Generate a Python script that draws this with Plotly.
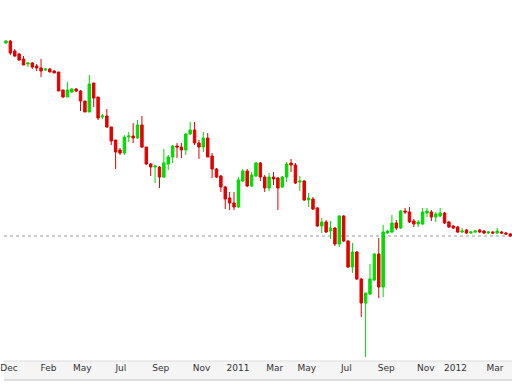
import plotly.graph_objects as go

# Weekly OHLC (price units)
open_ = [1.5112, 1.5144, 1.4984, 1.4936, 1.4856, 1.4776, 1.4792, 1.4744, 1.4712, 1.4680,
         1.4696, 1.4664, 1.4648, 1.4360, 1.4248, 1.4328, 1.4376, 1.4344, 1.4184, 1.4008,
         1.4472, 1.4248, 1.3928, 1.3944, 1.3768, 1.3560, 1.3400, 1.3352, 1.3608, 1.3624,
         1.3592, 1.3800, 1.3448, 1.3176, 1.3128, 1.3128, 1.2968, 1.3176, 1.3288, 1.3464,
         1.3448, 1.3400, 1.3656, 1.3720, 1.3512, 1.3448, 1.3592, 1.3304, 1.3096, 1.2984,
         1.2808, 1.2632, 1.2552, 1.2488, 1.2904, 1.3064, 1.2824, 1.2984, 1.3192, 1.2968,
         1.2792, 1.2968, 1.2952, 1.2808, 1.2968, 1.3192, 1.3160, 1.2888, 1.2904, 1.2600,
         1.2616, 1.2472, 1.2184, 1.2248, 1.2104, 1.2152, 1.1896, 1.2344, 1.1944, 1.1528,
         1.1768, 1.1336, 1.0952, 1.1096, 1.1320, 1.1736, 1.1208, 1.2072, 1.2088, 1.2232,
         1.2152, 1.2424, 1.2408, 1.2264, 1.2216, 1.2216, 1.2392, 1.2408, 1.2328, 1.2344,
         1.2392, 1.2248, 1.2184, 1.2168, 1.2088, 1.2120, 1.2072, 1.2088, 1.2120, 1.2104,
         1.2072, 1.2088, 1.2072, 1.2088, 1.2072, 1.2056]
high = [1.5160, 1.5160, 1.5016, 1.4952, 1.4904, 1.4808, 1.4808, 1.4776, 1.4856, 1.4712,
        1.4712, 1.4680, 1.4648, 1.4360, 1.4488, 1.4392, 1.4392, 1.4360, 1.4184, 1.4600,
        1.4472, 1.4248, 1.3976, 1.4056, 1.3768, 1.3560, 1.3432, 1.3640, 1.3688, 1.3832,
        1.3880, 1.3944, 1.3448, 1.3192, 1.3160, 1.3144, 1.3416, 1.3320, 1.3480, 1.3512,
        1.3512, 1.3672, 1.3848, 1.3848, 1.3560, 1.3688, 1.3672, 1.3352, 1.3112, 1.3000,
        1.2824, 1.2728, 1.2728, 1.2968, 1.3096, 1.3096, 1.3048, 1.3208, 1.3208, 1.3000,
        1.3032, 1.3048, 1.2968, 1.2984, 1.3208, 1.3256, 1.3192, 1.2984, 1.2920, 1.2712,
        1.2648, 1.2488, 1.2312, 1.2280, 1.2264, 1.2168, 1.2360, 1.2360, 1.1960, 1.1912,
        1.1784, 1.1352, 1.1112, 1.1576, 1.1752, 1.1992, 1.2200, 1.2120, 1.2360, 1.2280,
        1.2440, 1.2472, 1.2488, 1.2296, 1.2280, 1.2472, 1.2472, 1.2440, 1.2408, 1.2472,
        1.2408, 1.2264, 1.2200, 1.2184, 1.2152, 1.2136, 1.2104, 1.2120, 1.2136, 1.2120,
        1.2104, 1.2104, 1.2152, 1.2104, 1.2088, 1.2072]
low = [1.5096, 1.4920, 1.4888, 1.4824, 1.4760, 1.4728, 1.4696, 1.4664, 1.4568, 1.4664,
       1.4648, 1.4632, 1.4344, 1.4232, 1.4248, 1.4312, 1.4328, 1.4024, 1.4008, 1.4008,
       1.4088, 1.3880, 1.3896, 1.3752, 1.3480, 1.3096, 1.3320, 1.3320, 1.3528, 1.3512,
       1.3576, 1.3432, 1.3160, 1.2984, 1.2872, 1.2792, 1.2952, 1.3080, 1.3192, 1.3272,
       1.3272, 1.3320, 1.3640, 1.3480, 1.3256, 1.3368, 1.3288, 1.2952, 1.2952, 1.2728,
       1.2456, 1.2440, 1.2440, 1.2472, 1.2888, 1.2808, 1.2808, 1.2968, 1.2904, 1.2728,
       1.2744, 1.2840, 1.2440, 1.2792, 1.2888, 1.3048, 1.2856, 1.2744, 1.2584, 1.2488,
       1.2440, 1.2168, 1.2072, 1.2072, 1.1976, 1.1864, 1.1848, 1.1928, 1.1512, 1.1432,
       1.1320, 1.0728, 1.0088, 1.1080, 1.1304, 1.1032, 1.1048, 1.2056, 1.2072, 1.2120,
       1.2136, 1.2376, 1.2232, 1.2168, 1.2168, 1.2200, 1.2328, 1.2264, 1.2248, 1.2328,
       1.2216, 1.2152, 1.2136, 1.2072, 1.2072, 1.2056, 1.2056, 1.2072, 1.2072, 1.2056,
       1.2056, 1.2056, 1.2056, 1.2056, 1.2040, 1.2008]
close = [1.5144, 1.4952, 1.4904, 1.4840, 1.4760, 1.4792, 1.4728, 1.4712, 1.4664, 1.4696,
         1.4648, 1.4632, 1.4344, 1.4248, 1.4360, 1.4376, 1.4344, 1.4184, 1.4008, 1.4456,
         1.4232, 1.3912, 1.3944, 1.3768, 1.3544, 1.3368, 1.3352, 1.3608, 1.3624, 1.3592,
         1.3800, 1.3448, 1.3176, 1.3128, 1.3144, 1.2968, 1.3192, 1.3288, 1.3464, 1.3448,
         1.3400, 1.3656, 1.3720, 1.3512, 1.3448, 1.3592, 1.3288, 1.3096, 1.2968, 1.2808,
         1.2616, 1.2552, 1.2488, 1.2920, 1.3064, 1.2824, 1.3000, 1.3192, 1.2968, 1.2792,
         1.2968, 1.2936, 1.2792, 1.2968, 1.3176, 1.3160, 1.2872, 1.2904, 1.2600, 1.2632,
         1.2456, 1.2184, 1.2248, 1.2088, 1.2152, 1.1896, 1.2344, 1.1944, 1.1528, 1.1768,
         1.1336, 1.0952, 1.1112, 1.1336, 1.1736, 1.1208, 1.2088, 1.2104, 1.2232, 1.2152,
         1.2424, 1.2408, 1.2248, 1.2216, 1.2248, 1.2408, 1.2424, 1.2328, 1.2376, 1.2392,
         1.2232, 1.2168, 1.2152, 1.2088, 1.2104, 1.2072, 1.2088, 1.2104, 1.2088, 1.2072,
         1.2088, 1.2072, 1.2104, 1.2072, 1.2056, 1.2024]

# Axis tick labels and their positions (in candle index units)
tick_labels = ["Dec", "Feb", "May", "Jul", "Sep", "Nov", "2011",
               "Mar", "May", "Jul", "Sep", "Nov", "2012", "Mar"]
tick_pos = [0.7, 9.7, 17.4, 26.2, 35.3, 44.6, 52.9,
            61.3, 68.6, 77.6, 86.7, 95.7, 102.5, 111.5]

x = list(range(len(open_)))
last_close = close[-1]

fig = go.Figure(go.Candlestick(
    x=x, open=open_, high=high, low=low, close=close,
    increasing=dict(line=dict(color="#00d800", width=1), fillcolor="#00e000"),
    decreasing=dict(line=dict(color="#e00000", width=1), fillcolor="#e80000"),
    whiskerwidth=0,
    showlegend=False,
    hoverinfo="skip",
))

band_h = 19 / 361
fig.update_layout(
    width=512, height=384,
    margin=dict(l=0, r=0, t=0, b=23, pad=0),
    paper_bgcolor="white", plot_bgcolor="white",
    boxgap=0.2,
    xaxis=dict(
        range=[-0.45, 115.38], rangeslider=dict(visible=False),
        showgrid=False, zeroline=False, showline=False, ticks="",
        tickmode="array", tickvals=tick_pos, ticktext=tick_labels,
        tickfont=dict(family="DejaVu Sans", size=9, color="#333333"),
        tickangle=0, ticklabeloverflow="allow",
    ),
    yaxis=dict(
        range=[1.0024, 1.58], visible=False, showgrid=False, zeroline=False,
    ),
    shapes=[
        dict(type="rect", xref="paper", yref="paper", x0=0, x1=1, y0=-band_h, y1=0,
             fillcolor="#f5f5f5", line=dict(width=0), layer="below"),
        dict(type="line", xref="paper", yref="paper", x0=0, x1=1, y0=0, y1=0,
             line=dict(color="#dddddd", width=1), layer="below"),
        dict(type="line", xref="paper", yref="paper", x0=0, x1=1, y0=-band_h, y1=-band_h,
             line=dict(color="#c0c0c0", width=1), layer="below"),
        dict(type="line", xref="paper", yref="y", x0=0, x1=1, y0=last_close, y1=last_close,
             line=dict(color="#999999", width=1, dash="dot"), layer="below"),
    ],
)

fig.write_html(
    "out.html",
    config={"displayModeBar": False, "staticPlot": True},
    post_script=("document.documentElement.style.margin='0';"
                 "document.documentElement.style.overflow='hidden';"
                 "document.body.style.margin='0';"
                 "document.body.style.overflow='hidden';"),
)
